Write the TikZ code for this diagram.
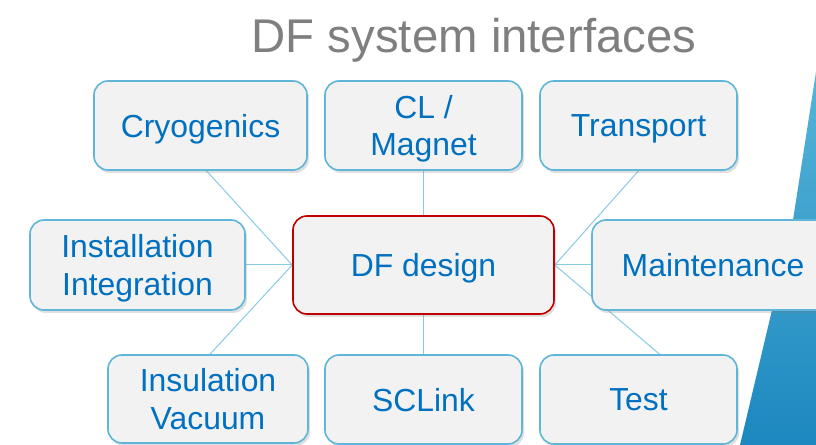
\documentclass[tikz,border=0pt]{standalone}
\usepackage{fontspec}
\setmainfont{Liberation Sans}
\usetikzlibrary{shadows,backgrounds}
\definecolor{boxfill}{HTML}{F2F2F2}
\definecolor{boxline}{HTML}{5FB6D8}
\definecolor{txtblue}{HTML}{0070C0}
\definecolor{redline}{HTML}{C00000}
\definecolor{titlegray}{HTML}{7F7F7F}
\definecolor{linkblue}{HTML}{8ACBE4}
\definecolor{decolight}{HTML}{56B4D8}
\definecolor{decodark}{HTML}{1C88BF}
\tikzset{
  ibox/.style={draw=boxline, line width=1.6bp, fill=boxfill, rounded corners=14bp,
    inner sep=0pt, align=center, text=txtblue, text depth=0pt,
    font=\fontsize{32}{38}\selectfont,
    drop shadow={opacity=0.25, shadow xshift=2bp, shadow yshift=-3bp}},
  cbox/.style={ibox, draw=redline},
  link/.style={draw=linkblue, line width=1bp}
}
\begin{document}
\begin{tikzpicture}[x=1bp,y=-1bp]
\clip (0,0) rectangle (816,445);
\node[text=titlegray, font=\fontsize{47.5}{50}\selectfont, text depth=0pt] (title) at (474,35) {DF system interfaces};
\node[cbox, minimum width=261bp, minimum height=98bp] (df) at (423.5,265) {DF design};
\node[ibox, minimum width=213bp, minimum height=89bp] (cryo) at (200.5,125.5) {Cryogenics};
\node[ibox, minimum width=197bp, minimum height=89bp] (cl) at (423.5,125.5) {CL /\\Magnet};
\node[ibox, minimum width=197bp, minimum height=89bp] (trans) at (638.5,125.5) {Transport};
\node[ibox, minimum width=215bp, minimum height=90bp] (inst) at (137.5,265) {Installation\\Integration};
\node[ibox, minimum width=242bp, minimum height=90bp] (maint) at (713,265) {Maintenance};
\node[ibox, minimum width=200bp, minimum height=88bp] (insul) at (208,399) {Insulation\\Vacuum};
\node[ibox, minimum width=197bp, minimum height=89bp] (sc) at (423.5,399.5) {SCLink};
\node[ibox, minimum width=197bp, minimum height=89bp] (test) at (638.5,399.5) {Test};
\begin{scope}[on background layer]
\fill[white] (0,0) rectangle (816,445);
% decoration on the right
\shade[top color=decolight, bottom color=decodark]
  (816,72) -- (793,220) -- (772,310) -- (740,445) -- (816,445) -- cycle;
\draw[link] (df.west) -- ([xshift=6bp]cryo.south);
\draw[link] (df.west) -- (inst.east);
\draw[link] (df.west) -- ([xshift=2bp]insul.north);
\draw[link] (df.north) -- (cl.south);
\draw[link] (df.south) -- (sc.north);
\draw[link] (df.east) -- (trans.south);
\draw[link] (df.east) -- (maint.west);
\draw[link] (df.east) -- ([xshift=21bp]test.north);
\end{scope}
\end{tikzpicture}
\end{document}
